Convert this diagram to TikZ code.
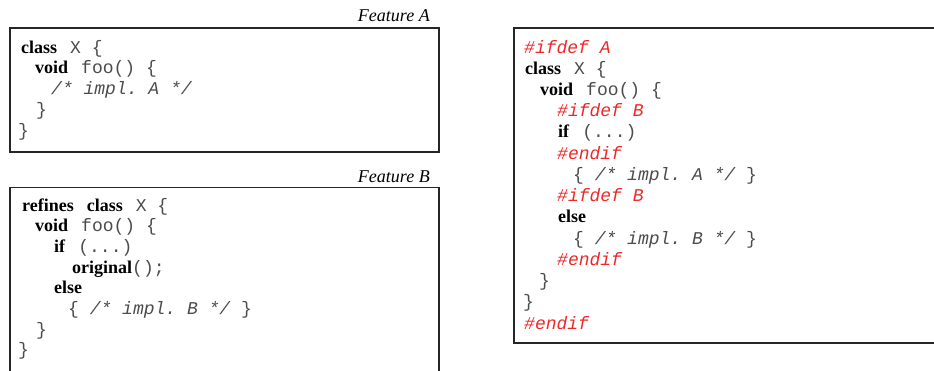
\documentclass[tikz,border=0pt]{standalone}
\usepackage{fontspec}
\setmainfont{Liberation Serif}
\setmonofont{Liberation Mono}
\definecolor{ppred}{RGB}{238,40,40}
\definecolor{monogray}{gray}{0.3}
\newcommand\kw[1]{\textbf{#1}}
\newcommand\mc[1]{{\ttfamily\color{monogray}\relax#1}}
\newcommand\cm[1]{{\ttfamily\itshape\color{monogray}\relax#1}}
\newcommand\pp[1]{{\ttfamily\itshape\color{ppred}\relax#1}}
\newcommand\kgap{\hspace{13pt}}
\begin{document}
\begin{tikzpicture}[x=1pt,y=-1pt,
  ln/.style={anchor=base west,inner sep=0pt,font=\fontsize{18}{21}\selectfont},
  lbl/.style={anchor=base east,inner sep=0pt,font=\fontsize{18}{21}\selectfont\itshape},
  frame/.style={draw=black!85,line width=1.2pt}]
\useasboundingbox (0,0) rectangle (934,370);
\clip (0,0) rectangle (934,370);
% Feature A
\node[lbl] (la) at (430,21) {Feature A};
\draw[frame] (10,28) rectangle (439,152);
\node[ln] (a1) at (21,53) {\kw{class}\kgap\mc{X \{}};
\node[ln] (a2) at (35,73.75) {\kw{void}\kgap\mc{foo() \{}};
\node[ln] (a3) at (51,94.5) {\cm{/* impl. A */}};
\node[ln] (a4) at (36,115.25) {\mc{\}}};
\node[ln] (a5) at (18,136) {\mc{\}}};
% Feature B
\node[lbl] (lb) at (430,182) {Feature B};
\draw[frame] (10,187.5) rectangle (439,385);
\node[ln] (b1) at (22,211) {\kw{refines}\kgap\kw{class}\kgap\mc{X \{}};
\node[ln] (b2) at (35,231.7) {\kw{void}\kgap\mc{foo() \{}};
\node[ln] (b3) at (54,252.4) {\kw{if}\kgap\mc{(...)}};
\node[ln] (b4) at (72,273.1) {\kw{original}\mc{();}};
\node[ln] (b5) at (54,293.8) {\kw{else}};
\node[ln] (b6) at (68,314.5) {\mc{\{ }\cm{/* impl. B */}\mc{ \}}};
\node[ln] (b7) at (36,335.2) {\mc{\}}};
\node[ln] (b8) at (18,355.9) {\mc{\}}};
% Composed
\draw[frame] (514,28) rectangle (950,343);
\node[ln] (c1) at (524,53) {\pp{\#ifdef A}};
\node[ln] (c2) at (525,74.2) {\kw{class}\kgap\mc{X \{}};
\node[ln] (c3) at (540,95.5) {\kw{void}\kgap\mc{foo() \{}};
\node[ln] (c4) at (557,116.7) {\pp{\#ifdef B}};
\node[ln] (c5) at (558,137.9) {\kw{if}\kgap\mc{(...)}};
\node[ln] (c6) at (557,159.2) {\pp{\#endif}};
\node[ln] (c7) at (573,180.4) {\mc{\{ }\cm{/* impl. A */}\mc{ \}}};
\node[ln] (c8) at (557,201.6) {\pp{\#ifdef B}};
\node[ln] (c9) at (558,222.8) {\kw{else}};
\node[ln] (c10) at (573,244.1) {\mc{\{ }\cm{/* impl. B */}\mc{ \}}};
\node[ln] (c11) at (557,265.3) {\pp{\#endif}};
\node[ln] (c12) at (539,286.5) {\mc{\}}};
\node[ln] (c13) at (523,307.8) {\mc{\}}};
\node[ln] (c14) at (524,329) {\pp{\#endif}};
\end{tikzpicture}
\end{document}
